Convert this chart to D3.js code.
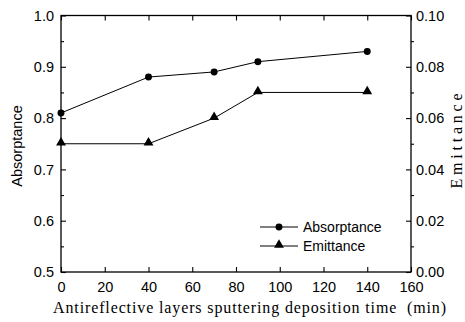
<!DOCTYPE html>
<html><head><meta charset="utf-8">
<script src="https://cdn.jsdelivr.net/npm/d3@7"></script>
<style>body{margin:0;background:#fff}svg{display:block}</style>
</head><body>
<script>
const times = [0, 40, 70, 90, 140];
const absorptance = [0.81, 0.88, 0.89, 0.91, 0.93];
const emittance = [0.05, 0.05, 0.06, 0.07, 0.07];
const xTicks = [0, 20, 40, 60, 80, 100, 120, 140, 160];
const yLeftTicks = [0.5, 0.6, 0.7, 0.8, 0.9, 1.0];
const yRightTicks = [0.00, 0.02, 0.04, 0.06, 0.08, 0.10];

const W = 465, H = 322;
const L = 61, R = 411, T = 15.5, B = 272;
const svg = d3.select("body").append("svg").attr("width", W).attr("height", H);

const x = d3.scaleLinear().domain([0, 160]).range([L, R]);
const yL = d3.scaleLinear().domain([0.5, 1.0]).range([B, T]);
const yR = d3.scaleLinear().domain([0, 0.10]).range([B, T]);
const sans = "Liberation Sans, Arial, sans-serif";
const serif = "Liberation Serif, Times New Roman, serif";

// frame
svg.append("rect").attr("x", L).attr("y", T).attr("width", R - L).attr("height", B - T)
  .attr("fill", "none").attr("stroke", "#000").attr("stroke-width", 1.3);

// bottom axis
const gB = svg.append("g").attr("transform", `translate(0,${B})`)
  .call(d3.axisBottom(x).tickValues(xTicks).tickSize(-5).tickPadding(10).tickFormat(d3.format("d")));
gB.select(".domain").remove();
gB.selectAll("text").attr("font-family", sans).attr("font-size", 14.5).attr("fill", "#000");
// top axis ticks
const gT = svg.append("g").attr("transform", `translate(0,${T})`)
  .call(d3.axisTop(x).tickValues(xTicks).tickSize(-5).tickFormat(""));
gT.select(".domain").remove();

// left axis
const gL = svg.append("g").attr("transform", `translate(${L},0)`)
  .call(d3.axisLeft(yL).tickValues(yLeftTicks).tickSize(-5).tickPadding(7).tickFormat(d3.format(".1f")));
gL.select(".domain").remove();
gL.selectAll("text").attr("font-family", sans).attr("font-size", 14.5).attr("fill", "#000");
svg.append("g").attr("transform", `translate(${L},0)`)
  .call(d3.axisLeft(yL).tickValues([0.55,0.65,0.75,0.85,0.95]).tickSize(-3).tickFormat(""))
  .select(".domain").remove();

// right axis
const gR = svg.append("g").attr("transform", `translate(${R},0)`)
  .call(d3.axisRight(yR).tickValues(yRightTicks).tickSize(-5).tickPadding(7).tickFormat(d3.format(".2f")));
gR.select(".domain").remove();
gR.selectAll("text").attr("font-family", sans).attr("font-size", 14.5).attr("fill", "#000");
svg.append("g").attr("transform", `translate(${R},0)`)
  .call(d3.axisRight(yR).tickValues([0.01,0.03,0.05,0.07,0.09]).tickSize(3).tickFormat(""))
  .select(".domain").remove();
gR.selectAll("text").attr("x", 5);
svg.selectAll(".tick line").attr("stroke", "#000").attr("stroke-width", 1.1);

// lines
const lineA = d3.line().x((d, i) => x(times[i])).y(d => yL(d));
const lineE = d3.line().x((d, i) => x(times[i])).y(d => yR(d));
svg.append("path").attr("d", lineA(absorptance)).attr("fill", "none").attr("stroke", "#000").attr("stroke-width", 1);
svg.append("path").attr("d", lineE(emittance)).attr("fill", "none").attr("stroke", "#000").attr("stroke-width", 1);

const circ = d3.symbol().type(d3.symbolCircle).size(38);
const tri = d3.symbol().type(d3.symbolTriangle).size(42);
svg.selectAll(".ma").data(absorptance).join("path")
  .attr("d", circ).attr("transform", (d, i) => `translate(${x(times[i])},${yL(d)})`).attr("fill", "#000");
svg.selectAll(".me").data(emittance).join("path")
  .attr("d", tri).attr("transform", (d, i) => `translate(${x(times[i])},${yR(d) - 1})`).attr("fill", "#000");

// legend
const legend = [{name: "Absorptance", sym: circ, y: 227}, {name: "Emittance", sym: tri, y: 246}];
legend.forEach(l => {
  svg.append("line").attr("x1", 260).attr("x2", 298).attr("y1", l.y).attr("y2", l.y).attr("stroke", "#000");
  svg.append("path").attr("d", l.sym).attr("transform", `translate(279,${l.y - (l.sym === tri ? 1 : 0)})`);
  svg.append("text").attr("x", 303).attr("y", l.y).attr("dy", "0.35em").attr("font-family", sans)
    .attr("font-size", 14).text(l.name);
});

// axis titles
svg.append("text").attr("transform", "translate(21.5,146) rotate(-90)").attr("text-anchor", "middle")
  .attr("font-family", sans).attr("font-size", 14.5).text("Absorptance");
svg.append("text").attr("transform", "translate(462,141) rotate(-90)").attr("text-anchor", "middle")
  .attr("font-family", serif).attr("font-size", 16).attr("textLength", 95).attr("lengthAdjust", "spacing")
  .text("Emittance");
svg.append("text").attr("x", 53).attr("y", 313).attr("font-family", serif).attr("font-size", 16)
  .attr("textLength", 393).attr("lengthAdjust", "spacing").attr("xml:space", "preserve")
  .text("Antireflective layers sputtering deposition time  (min)");
</script>
</body></html>
